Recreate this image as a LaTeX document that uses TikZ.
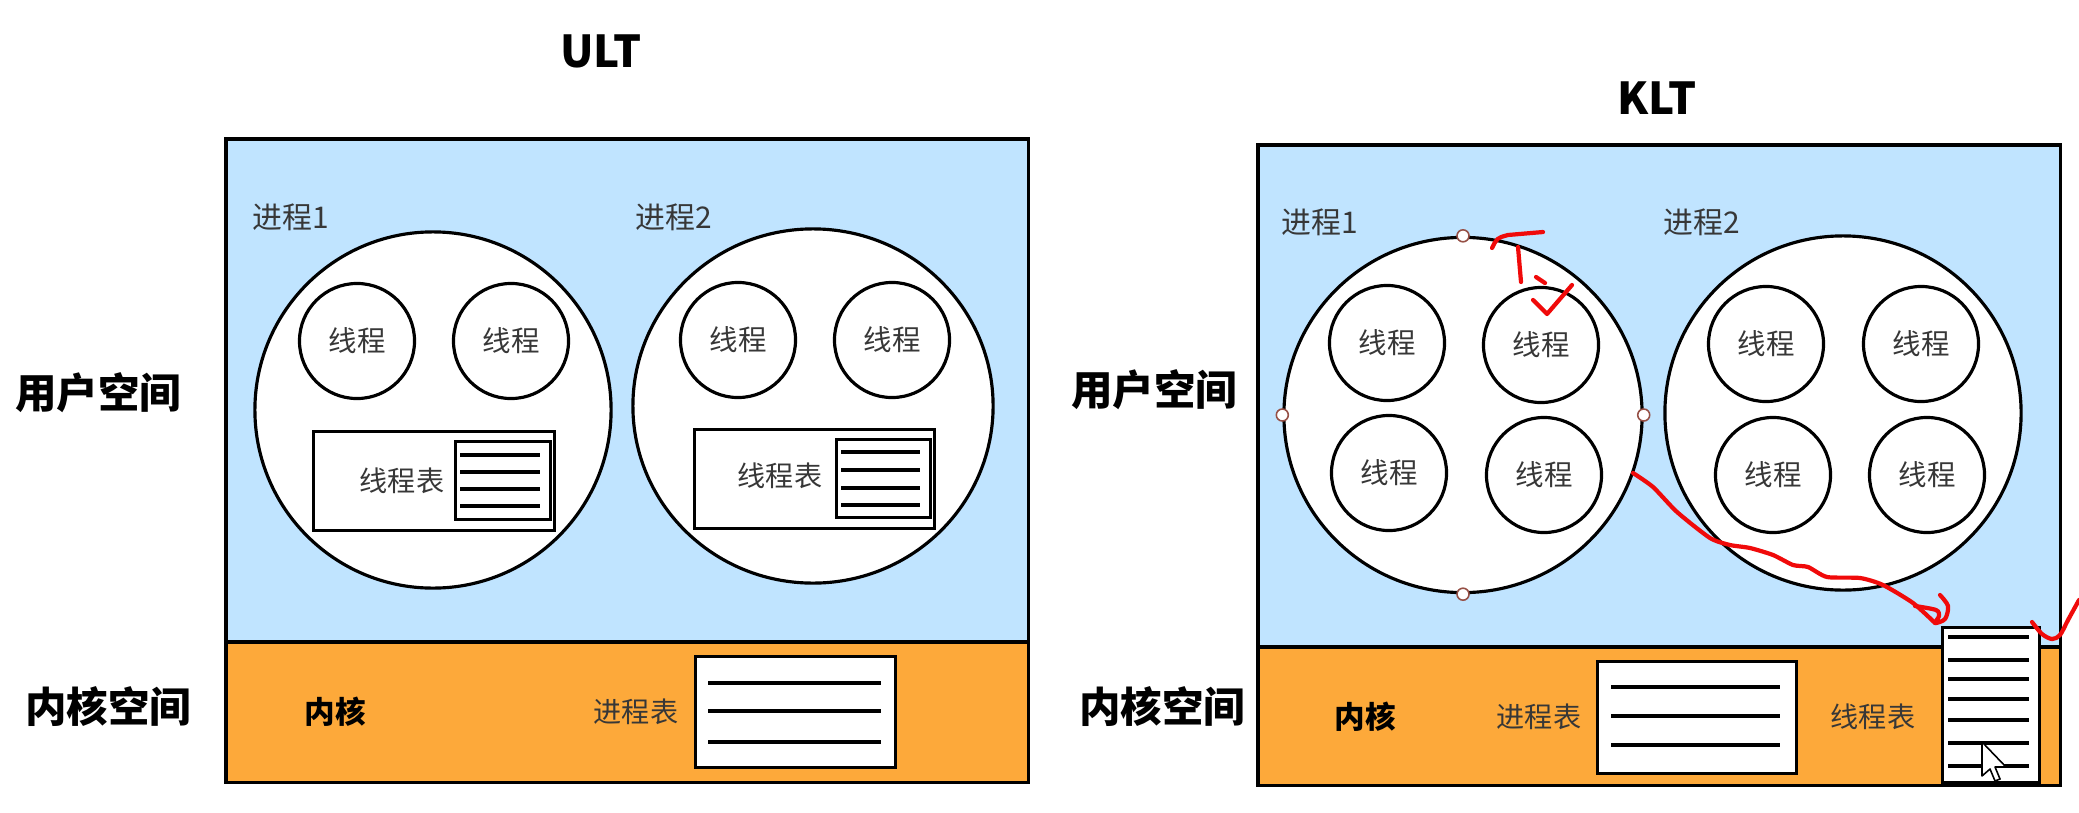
\documentclass[tikz,border=0pt]{standalone}
\usepackage{fontspec}
\setmainfont{Noto Sans CJK SC}
\usetikzlibrary{shapes.geometric}
\definecolor{ublue}{RGB}{192,228,255}
\definecolor{korange}{RGB}{253,169,58}
\definecolor{inkred}{RGB}{240,10,10}
\definecolor{handlec}{RGB}{150,80,70}
\definecolor{txt}{RGB}{55,55,55}
\tikzset{
  area/.style={draw=black, line width=0.9pt, rectangle, inner sep=0pt, outer sep=0pt, anchor=north west},
  proc/.style={draw=black, fill=white, line width=0.9pt, ellipse, inner sep=0pt},
  thread/.style={draw=black, fill=white, line width=0.9pt, circle, inner sep=0pt, minimum size=1.15cm,
                 font=\fontsize{8.1pt}{9pt}\selectfont, text=txt},
  tbox/.style={draw=black, fill=white, line width=0.9pt, rectangle, inner sep=0pt, anchor=north west},
  tline/.style={line width=1.1pt},
  title/.style={font=\fontsize{12.5pt}{14pt}\selectfont\bfseries},
  side/.style={font=\fontsize{11.8pt}{13pt}\selectfont\bfseries},
  plabel/.style={font=\fontsize{8.5pt}{10pt}\selectfont, text=txt},
  small/.style={font=\fontsize{8pt}{9pt}\selectfont, text=txt},
  kern/.style={font=\fontsize{8.7pt}{10pt}\selectfont\bfseries},
  hdl/.style={draw=handlec, fill=white, line width=0.45pt, circle, inner sep=0pt, minimum size=0.12cm},
  scrib/.style={draw=inkred, line width=1.2pt, line cap=round, line join=round},
}
\begin{document}
\begin{tikzpicture}[x=0.01cm, y=-0.01cm]
\useasboundingbox (0,0) rectangle (2079,812);

% ================= ULT =================
\node[title] (ultt) at (601,51) {ULT};
\node[side] (uus) at (98,393) {用户空间};
\node[side] (uks) at (108,707) {内核空间};

\node[area, fill=ublue, minimum width=8.02cm, minimum height=5.03cm] (uuser) at (226,139) {};
\node[area, fill=korange, minimum width=8.02cm, minimum height=1.40cm] (ukern) at (226,642) {};

\node[plabel] (up1l) at (291,217) {进程1};
\node[plabel] (up2l) at (674,217) {进程2};

\node[proc, minimum width=3.56cm, minimum height=3.56cm] (up1) at (433,410) {};
\node[proc, minimum width=3.60cm, minimum height=3.54cm] (up2) at (813,406) {};

\node[thread] (ut11) at (357,341) {线程};
\node[thread] (ut12) at (511,341) {线程};
\node[thread] (ut21) at (738,340) {线程};
\node[thread] (ut22) at (892,340) {线程};

% thread tables in processes
\node[tbox, minimum width=2.41cm, minimum height=0.99cm] (utt1) at (312,430) {};
\node[tbox, minimum width=0.95cm, minimum height=0.78cm] (utt1i) at (454,440) {};
\foreach \yy in {455,472,489,506} \draw[tline] (460,\yy) -- (540,\yy);
\node[small] (utt1l) at (402,481) {线程表};

\node[tbox, minimum width=2.40cm, minimum height=0.99cm] (utt2) at (693,428) {};
\node[tbox, minimum width=0.94cm, minimum height=0.78cm] (utt2i) at (835,438) {};
\foreach \yy in {452,470,488,505} \draw[tline] (841,\yy) -- (920,\yy);
\node[small] (utt2l) at (780,476) {线程表};

% kernel
\node[kern] (ukl) at (335,712) {内核};
\node[small] (uptl) at (636,712) {进程表};
\node[tbox, minimum width=2.00cm, minimum height=1.11cm] (upt) at (694,655) {};
\foreach \yy in {683,711,742} \draw[tline] (708,\yy) -- (881,\yy);

% ================= KLT =================
\node[title] (kltt) at (1657,98) {KLT};
\node[side] (kus) at (1154,390) {用户空间};
\node[side] (kks) at (1162,707) {内核空间};

\node[area, fill=ublue, minimum width=8.02cm, minimum height=5.02cm] (kuser) at (1258,145) {};
\node[area, fill=korange, minimum width=8.02cm, minimum height=1.38cm] (kkern) at (1258,647) {};

\node[plabel] (kp1l) at (1320,222) {进程1};
\node[plabel] (kp2l) at (1702,222) {进程2};

\node[proc, minimum width=3.58cm, minimum height=3.55cm] (kp1) at (1463,415) {};
\node[proc, minimum width=3.56cm, minimum height=3.54cm] (kp2) at (1843,413) {};

\node[thread] (kt11) at (1387,343) {线程};
\node[thread] (kt12) at (1541,345) {线程};
\node[thread] (kt13) at (1389,473) {线程};
\node[thread] (kt14) at (1544,475) {线程};
\node[thread] (kt21) at (1766,344) {线程};
\node[thread] (kt22) at (1921,344) {线程};
\node[thread] (kt23) at (1773,475) {线程};
\node[thread] (kt24) at (1927,475) {线程};

% kernel
\node[kern] (kkl) at (1365,717) {内核};
\node[small] (kptl) at (1539,717) {进程表};
\node[tbox, minimum width=1.99cm, minimum height=1.12cm] (kpt) at (1596,660) {};
\foreach \yy in {687,716,745} \draw[tline] (1611,\yy) -- (1780,\yy);
\node[small] (kttl) at (1873,717) {线程表};
\node[tbox, minimum width=0.97cm, minimum height=1.55cm] (ktt) at (1941,626) {};
\foreach \yy in {637,660,679,699,720,743,766} \draw[tline] (1948,\yy) -- (2029,\yy);

% selection handles on process 1
\node[hdl] (h1) at (kp1.north) {};
\node[hdl] (h2) at (kp1.south) {};
\node[hdl] (h3) at (kp1.west) {};
\node[hdl] (h4) at (kp1.east) {};

% red hand annotations
\draw[scrib] (1492,248) .. controls (1497,238) .. (1508,235) -- (1543,232);
\draw[scrib] (1518,247) -- (1521,282);
\draw[scrib] (1536,277) -- (1545,283);
\draw[scrib] (1533,300) -- (1547,314) -- (1572,285);
\draw[scrib] plot[smooth, tension=0.4] coordinates {(1633,473) (1653,487) (1677,512) (1710,538) (1730,545) (1750,548) (1773,555) (1793,565) (1808,567) (1827,577) (1860,578) (1883,585) (1913,603) (1935,623)};
\draw[scrib] plot[smooth, tension=0.5] coordinates {(1915,606) (1936,610) (1939,616) (1935,623) (1945,619) (1948,606) (1940,595)};
\draw[scrib] plot[smooth, tension=0.5] coordinates {(2032,622) (2042,634) (2052,639) (2060,635) (2068,620) (2079,600)};

% mouse cursor
\draw[fill=white, line width=0.45pt, line join=round] (1982,742) -- ++(0,34) -- ++(8,-7) -- ++(5,12) -- ++(5,-2) -- ++(-5,-12) -- ++(11,0) -- cycle;
\end{tikzpicture}
\end{document}
